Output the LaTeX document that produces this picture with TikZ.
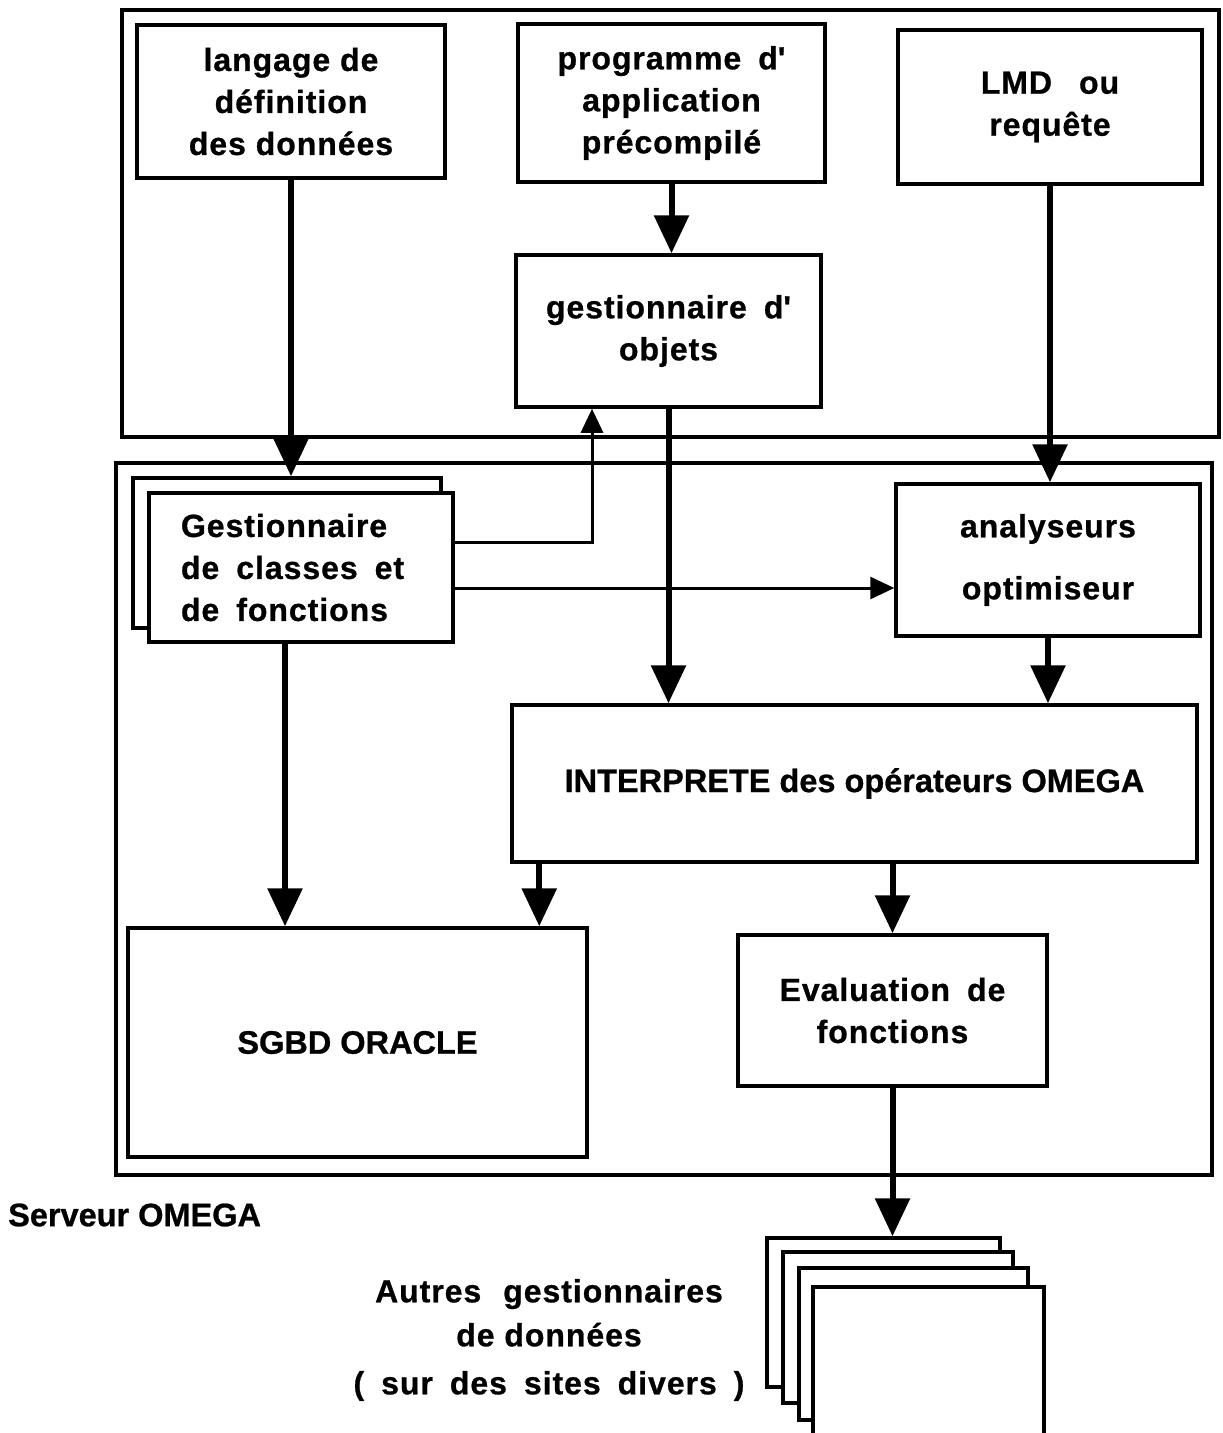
\documentclass[tikz,border=0pt]{standalone}
\usepackage{fontspec}
\setmainfont{Liberation Sans}[FakeBold=0.8]
\usetikzlibrary{arrows.meta,calc}

\newcommand\boxfont{\fontsize{32}{42}\selectfont\bfseries\addfontfeature{LetterSpace=3}}
\newcommand\plainfont{\fontsize{32.5}{42}\selectfont\bfseries}
\newcommand\apos{\textquotesingle}
\newcommand\gap{\hspace{17pt}}

\begin{document}
\begin{tikzpicture}[x=1pt,y=-1pt,
  frame/.style={draw,line width=3.5pt},
  box/.style={draw,line width=3.5pt,fill=white,inner sep=0pt,align=center,font=\boxfont},
  thickarrow/.style={line width=6pt,-{Triangle[length=38pt,width=34pt]}},
  thinarrow/.style={line width=3pt,-{Triangle[length=24pt,width=22pt]}},
  lbl/.style={inner sep=0pt,align=center}]

\useasboundingbox (0,0) rectangle (1223,1433);
\clip (0,0) rectangle (1223,1433);

% client side frame and server frame
\draw[frame] (122,10) rectangle (1219,437);
\draw[frame] (116,463) rectangle (1212,1175);

% client side
\node[box,minimum width=308pt,minimum height=153pt] (lang) at (291,101.5)
  {langage de\\ définition\\ des données};
\node[box,minimum width=307pt,minimum height=158pt] (prog) at (671.5,103)
  {programme\gap d\apos\\ application\\ précompilé};
\node[box,minimum width=304pt,minimum height=154pt] (lmd) at (1050,107)
  {LMD\hspace{27pt}ou\\ requête};
\node[box,minimum width=305pt,minimum height=152pt] (obj) at (668.5,331)
  {gestionnaire\gap d\apos\\ objets};

% server side
\node[box,minimum width=308pt,minimum height=150pt] (gsh) at (287,553) {};
\node[box,minimum width=304pt,minimum height=149pt,text width=240pt,align=left] (gest) at (301,567.5)
  {Gestionnaire\\ de\gap classes\gap et\\ de\gap fonctions};
\node[box,minimum width=304pt,minimum height=152pt] (ana) at (1048,560)
  {analyseurs\\[20pt] optimiseur};
\node[box,minimum width=685pt,minimum height=157pt,font=\plainfont] (interp) at (854.5,783.5)
  {INTERPRETE des opérateurs OMEGA};
\node[box,minimum width=459pt,minimum height=229pt,font=\plainfont] (sgbd) at (357.5,1042.5)
  {SGBD ORACLE};
\node[box,minimum width=309pt,minimum height=151pt] (eval) at (892.5,1010.5)
  {Evaluation\gap de\\ fonctions};

% remote data managers, stacked
\node[box,minimum width=233pt,minimum height=149pt] (st1) at (883.5,1312.5) {};
\node[box,minimum width=230pt,minimum height=151pt] (st2) at (898,1327.5) {};
\node[box,minimum width=229pt,minimum height=152pt] (st3) at (913.5,1344) {};
\node[box,minimum width=231pt,minimum height=153pt] (st4) at (928.5,1363.5) {};

% labels
\node[lbl,anchor=west,font=\plainfont] (srv) at (8,1215) {Serveur OMEGA};
\node[lbl,font=\boxfont] (autres) at (549,1340)
  {Autres\hspace{22pt}gestionnaires\\[2pt] de données\\[6pt] (\gap sur\gap des\gap sites\gap divers\gap )};

% connectors
\draw[thickarrow] (lang.south) -- (lang.south |- gsh.north);
\draw[thickarrow] (prog.south) -- (prog.south |- obj.north);
\draw[thickarrow] (lmd.south) -- (lmd.south |- ana.north);
\draw[thickarrow] (obj.south) -- (obj.south |- interp.north);
\draw[thickarrow] (ana.south) -- (ana.south |- interp.north);
\coordinate (gdown) at ($(gest.south)+(-16,0)$);
\draw[thickarrow] (gdown) -- (gdown |- sgbd.north);
\coordinate (idown) at ($(interp.south west)+(29,0)$);
\draw[thickarrow] (idown) -- (idown |- sgbd.north);
\draw[thickarrow] (eval.north |- interp.south) -- (eval.north);
\draw[thickarrow] (eval.south) -- (eval.south |- st1.north);

\coordinate (g1) at ($(gest.east)+(0,-25.5)$);
\coordinate (objin) at ($(obj.south)+(-76.5,0)$);
\draw[thinarrow] (g1) -| (objin);
\coordinate (g2) at ($(gest.east)+(0,20.5)$);
\draw[thinarrow] (g2) -- (g2 -| ana.west);

\end{tikzpicture}
\end{document}
